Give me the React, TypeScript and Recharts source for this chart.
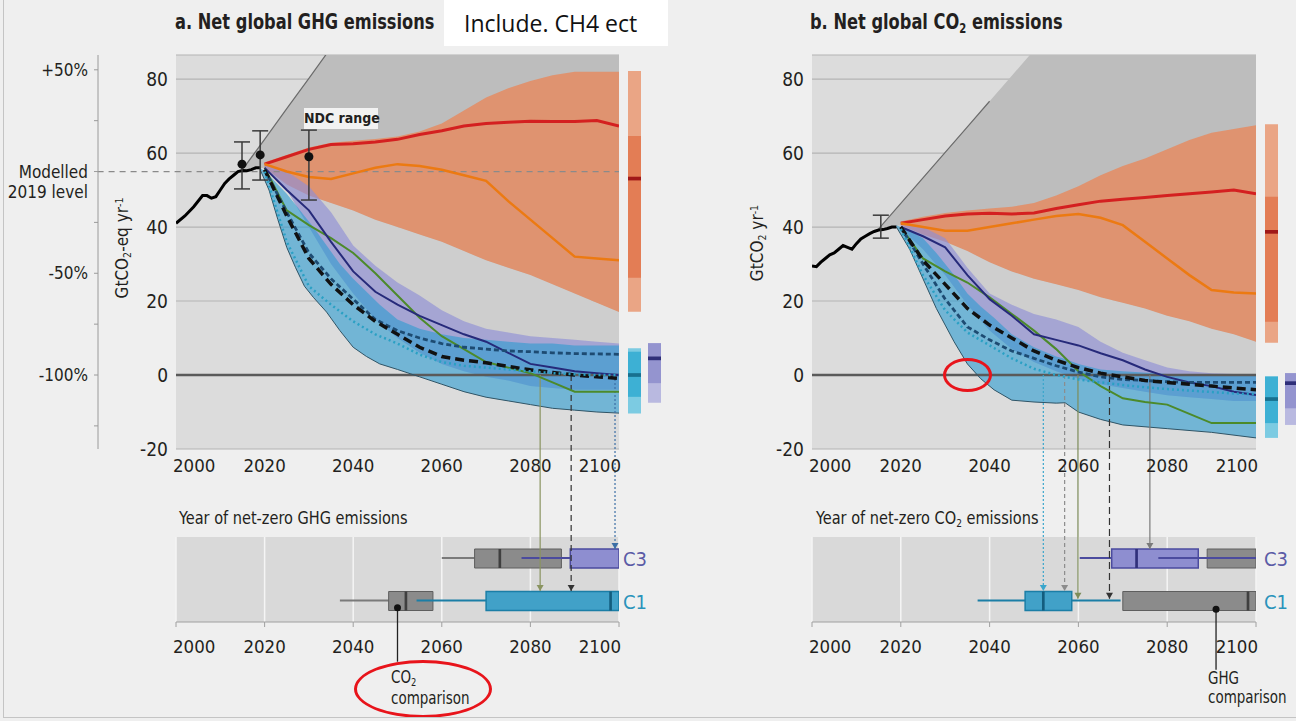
import React from 'react';
import {
  ComposedChart, BarChart, Area, Line, Bar, Scatter, ErrorBar, Cell,
  XAxis, YAxis, CartesianGrid, ReferenceLine, ReferenceDot,
} from 'recharts';

const FONT = "'DejaVu Sans Condensed', 'Liberation Sans Narrow', sans-serif";
const INK = '#231f20';

// ---------------- shared axes ----------------
const yearTicks = [2000, 2020, 2040, 2060, 2080, 2100];
const valueTicks = [-20, 0, 20, 40, 60, 80];
const pctTicks = [-13.75, 0, 13.75, 27.5, 41.25, 55, 68.75, 82.5];
const pctLabels = ['', '-100%', '', '-50%', '', 'Modelled|2019 level', '', '+50%'];
const projYears = [2020, 2025, 2030, 2035, 2040, 2045, 2050, 2055, 2060, 2065, 2070, 2075, 2080, 2085, 2090, 2095, 2100];
const envYears = [2015, 2020, 2025, 2030, 2035, 2040, 2045, 2050, 2055, 2060, 2065, 2070, 2075, 2080, 2085, 2090, 2095, 2100];
const zeroYears = [2000, 2100];
const zeroValues = [0, 0];

// ---------------- panel a: net GHG ----------------
const ghgStart = 55.5;
const ghgHistYears = [2000, 2002, 2004, 2006, 2007, 2008, 2009, 2010, 2011, 2012, 2013, 2014, 2015, 2016, 2017, 2018, 2019];
const ghgHist = [41, 43, 45.5, 48.5, 48.5, 47.8, 48.2, 50, 51.8, 53, 54, 55, 55.3, 55.2, 55.5, 56, 56];
const ghgEnvUpper = [55.5, 63.7, 72, 80.2, 88.5, 120, 120, 120, 120, 120, 120, 120, 120, 120, 120, 120, 120, 120];
const ghgOrangeHi = [57.5, 59.5, 61.5, 62.8, 63.3, 63.8, 64.5, 65.8, 68, 71.5, 75, 77.5, 79.5, 81, 82, 82, 82];
const ghgOrangeLo = [56, 51.5, 48.5, 46.5, 44.5, 42, 40, 38, 36, 33.5, 31, 29, 27, 24.5, 22, 19.5, 17];
const ghgPurpleHi = [57, 55, 51, 44, 35, 29.5, 25, 21.5, 17.5, 14.5, 12.5, 11.5, 10.5, 10, 9.5, 9, 8.5];
const ghgPurpleLo = [56, 50, 40, 30, 22, 15, 10, 6, 3, 1, -0.5, -1.5, -3, -3.5, -4, -4, -4];
const ghgBlueYears = [2019, 2021, 2023, 2025, 2027, 2029, 2031, 2034, 2037, 2040, 2043, 2046, 2050, 2055, 2060, 2065, 2070, 2075, 2080, 2085, 2090, 2095, 2100];
const ghgBlueLo = [55.5, 50, 42, 34.5, 29, 24, 21, 17, 12, 7.5, 5, 3, 1.5, -0.5, -2.5, -4.5, -6, -7, -8, -9, -9.5, -10, -10.3];
const ghgBlueHi = [56, 54, 51.5, 49, 46, 43, 40, 35, 30, 26, 22.5, 19, 15, 12.5, 11, 10, 9.5, 9, 8.5, 8.5, 8, 8, 8];
const ghgRed = [57, 59, 61, 62.3, 62.5, 63, 63.7, 65, 66, 67.3, 68, 68.3, 68.6, 68.5, 68.5, 68.8, 67.3];
const ghgOrange = [57, 55, 53.5, 53, 54.5, 56, 57, 56.5, 55.5, 54, 52.5, 47, 42, 37, 32, 31.5, 31];
const ghgNavy = [56, 50, 44.5, 36, 28, 22.5, 19, 16, 13.5, 11, 9, 6, 3, 2, 1, 0.5, 0];
const ghgGreen = [56, 44.5, 40.5, 37, 33, 27.5, 21.5, 15.5, 10.5, 7, 3.5, 2, 0.5, -2, -4.5, -4.5, -4.5];
const ghgBlackDash = [55.5, 43, 31.5, 24.5, 19, 14.5, 11, 7.5, 5, 4, 3.3, 2.3, 1.4, 0.7, 0, -0.5, -0.9];
const ghgNavyDash = [55.5, 44, 33, 26, 20.5, 15, 12, 10, 8.5, 7.5, 7, 6.5, 6.3, 6, 5.8, 5.7, 5.6];
const ghgCyanDot = [55, 36, 24, 19, 14.5, 11, 8.5, 5.5, 3.5, 2.5, 2, 1.5, 1, 0.5, 0.2, 0, 0];
const ghgErrYears = [2014.9, 2019, 2030];
const ghgErrValues = [57, 59.5, 59];
const ghgErrLow = [6.7, 6.8, 11.7];
const ghgErrHigh = [6, 6.5, 7.2];
const ghgDropYears = [2082.2, 2089.2, 2099.1];
const ghgDropEnds = [-58.4, -58.4, -47];
const ghgDropColors = ['#8a9460', '#333333', '#3b6ea5'];
const ghgDropDash = ['', '6 4', '2 2'];
const ghgCompareYear = 2050;
const ghgCompareSpan = [-62.9, -77.5];

// ---------------- panel b: net CO2 ----------------
const co2Start = 39.5;
const co2HistYears = [2000, 2001, 2002, 2003, 2004, 2005, 2006, 2007, 2008, 2009, 2010, 2011, 2012, 2013, 2014, 2015, 2016, 2017, 2018, 2019];
const co2Hist = [29.5, 29.3, 30.5, 31.5, 32.5, 33, 34, 35, 34.5, 34, 35.5, 36.8, 37.5, 38.2, 38.8, 39.2, 39.3, 39.6, 40, 40];
const co2EnvUpper = [39.5, 46.4, 53.3, 60.2, 67.1, 74, 80.9, 87.8, 120, 120, 120, 120, 120, 120, 120, 120, 120, 120];
const co2OrangeHi = [41.5, 42.8, 43.8, 44.5, 45, 45.5, 46.5, 48.5, 51, 54, 56.5, 58.5, 61, 63.5, 65.5, 66.5, 67.5];
const co2OrangeLo = [40.5, 38, 36, 33.5, 30.5, 28, 26, 24.5, 23, 21, 19.5, 18, 16, 14.5, 12.5, 11, 9];
const co2PurpleHi = [40.5, 40, 37, 29, 22, 19, 16.5, 15, 13, 9, 6, 4, 2, 1, 0.5, 0.3, 0];
const co2PurpleLo = [39.5, 34, 27, 19, 12, 7, 3.5, 1, -1, -2.5, -3.5, -4.5, -5.5, -6, -6.5, -7, -7];
const co2BlueYears = [2019, 2022, 2025, 2028, 2030, 2032, 2035, 2038, 2041, 2045, 2050, 2055, 2057, 2060, 2065, 2070, 2080, 2090, 2100];
const co2BlueLo = [40, 34, 26, 18, 13.5, 9, 3, -1, -4, -6.8, -7.3, -7.6, -7.5, -10, -12, -13.5, -14.5, -15.5, -17];
const co2BlueHi = [40.5, 39, 37, 33, 30, 27, 22, 18.5, 15.5, 11, 7.5, 5, 4.3, 3, 1.5, 1, 0.3, 0.1, 0];
const co2Red = [41, 42, 43, 43.5, 43.7, 43.5, 43.8, 45, 46, 47, 47.5, 48, 48.5, 49, 49.5, 50, 49];
const co2Orange = [41, 40, 39, 39, 40, 41, 42, 43, 43.5, 42.5, 40.5, 36, 31.5, 27, 23, 22.3, 22];
const co2Navy = [40, 37.5, 34.5, 27, 20.5, 16, 11, 9.5, 8, 5.9, 4, 1.5, -0.5, -2, -3, -4.5, -5.4];
const co2Green = [40, 31.5, 28, 25, 21, 16.5, 12, 7, 1, -3, -6.3, -7.3, -8, -10.5, -13, -13, -13];
const co2BlackDash = [40, 31, 24.5, 18, 13.5, 10, 6.5, 4, 2, 0.5, -0.5, -1.5, -2, -2.5, -3, -3.5, -4];
const co2NavyDash = [40, 30, 20.5, 13, 9.5, 6.5, 4.5, 2.5, 0.8, -0.5, -1.2, -1.5, -1.8, -2, -2, -2, -2];
const co2CyanDot = [39.5, 27, 17.5, 11.5, 8, 4.5, 1.7, 0, -1.2, -2, -2.7, -3.3, -3.8, -4.2, -4.6, -5, -5.2];
const co2ErrYears = [2015.5];
const co2ErrValues = [40];
const co2ErrLow = [3];
const co2ErrHigh = [3.2];
const co2DropYears = [2052.1, 2056.9, 2059.9, 2067, 2076.1];
const co2DropEnds = [-58.4, -58.4, -60.5, -60.5, -47];
const co2DropColors = ['#3aa6cc', '#8c8c8c', '#7d8c5a', '#333333', '#7a7a7a'];
const co2DropDash = ['2 2', '4 3', '', '7 4', ''];
const co2CompareYear = 2091;
const co2CompareSpan = [-63.3, -79.7];

// ---------------- side range bars (2100 distributions) ----------------
const sideCols = ['a', 'b'];
const ghgSideOuter1 = [[17.1, 82.2], [-7.5, 8.6]];
const ghgSideInner1 = [[26.3, 64.6], [-2.2, 8.6]];
const ghgSideMed1 = [[52.6, 53.6], [4, 5]];
const ghgSideOuter2 = [[-10.4, 7.2], null];
const ghgSideInner2 = [[-5.9, 6.3], null];
const ghgSideMed2 = [[-0.5, 0.5], null];
const co2SideOuter1 = [[8.7, 67.8], [-13.5, 0.5]];
const co2SideInner1 = [[14.4, 48.2], [-9, 0.5]];
const co2SideMed1 = [[38.2, 39.2], [-2.7, -1.7]];
const co2SideOuter2 = [[-17, -0.4], null];
const co2SideInner2 = [[-13, -0.4], null];
const co2SideMed2 = [[-7, -6], null];

// ---------------- year of net-zero box plots ----------------
const boxRows = ['C3', 'C1'];
const ghgGreyWhisk = [[2060, 2067.4], [2037, 2048]];
const ghgGreyBox = [[2067.4, 2087], [2048, 2058]];
const ghgGreyMed = [[2072.8, 2073.4], [2051.6, 2052.2]];
const ghgColBox = [[2089, 2100], [2070, 2100]];
const ghgColMed = [null, [2097.8, 2098.4]];
const ghgColWhiskA = [[2078, 2089], [2054.3, 2070]];
const ghgColWhiskB = [null, null];
const co2GreyWhisk = [null, null];
const co2GreyBox = [[2089, 2100], [2070, 2100]];
const co2GreyMed = [null, [2097.9, 2098.5]];
const co2ColBox = [[2067.5, 2087], [2048, 2058.5]];
const co2ColMed = [[2072.8, 2073.4], [2051.8, 2052.4]];
const co2ColWhiskA = [[2060.3, 2067.5], [2037.3, 2048]];
const co2ColWhiskB = [[2078, 2100], [2058.5, 2069.5]];

// ---------------- helpers ----------------
const pts = (xs: number[], ys: number[]) => xs.map((x, i) => ({ x, y: ys[i] }));
const band = (xs: number[], lo: number[], hi: number[]) => xs.map((x, i) => ({ x, r: [lo[i], hi[i]] }));

const rowColor: any = { C3: '#5b5ba6', C1: '#2a93bb' };
const boxFill: any = { C3: '#8e8ed0', C1: '#41a1c8' };
const boxStroke: any = { C3: '#4b4b9e', C1: '#1b7ea6' };
const medColor: any = { C3: '#30307a', C1: '#135d7e' };

const yearTick = (dy: number) => (props: any) => {
  const { x, y, payload } = props;
  const v = payload.value;
  const anchor = v === 2000 ? 'start' : v === 2100 ? 'end' : 'middle';
  const dx = v === 2000 ? -3 : v === 2100 ? 2 : 0;
  return (
    <text x={x + dx} y={y + dy} textAnchor={anchor} fontSize={18.5} fill={INK} fontFamily={FONT}>{v}</text>
  );
};

const PctTick = (props: any) => {
  const { x, y, payload } = props;
  const lab = pctLabels[pctTicks.indexOf(payload.value)] || '';
  const lines = lab.split('|');
  return (
    <text x={x} y={y} textAnchor="end" fontSize={17} fill={INK} fontFamily={FONT}>
      {lines.map((l, i) => <tspan key={i} x={x} dy={i === 0 ? 6 : 20}>{l}</tspan>)}
    </text>
  );
};

const RowTick = (props: any) => {
  const { x, y, payload } = props;
  return (
    <text x={x} y={y} dy={8} fontSize={20} fill={rowColor[payload.value]} fontFamily={FONT}>{payload.value}</text>
  );
};

// ---------------- top panel ----------------
function TopPanel({ p, left, width, mLeft, mRight, yWidth, pct }: any) {
  const darkWedge = band(envYears, [p.start, ...p.orangeLo], p.envUpper);
  const lightWedge = band(envYears, [p.start, ...p.purpleLo], [p.start, ...p.orangeLo]);
  const diag = pts(envYears.slice(0, 6), p.envUpper.slice(0, 6));
  const errData = p.errYears.map((x: number, i: number) => ({ x, y: p.errValues[i], e: [p.errLow[i], p.errHigh[i]] }));
  const L = { isAnimationActive: false, dot: false, activeDot: false, type: 'linear' as const, dataKey: 'y' };
  const A = { isAnimationActive: false, dot: false, activeDot: false, type: 'linear' as const, dataKey: 'r', stroke: 'none' };
  return (
    <div style={{ position: 'absolute', left, top: 0 }}>
      <ComposedChart width={width} height={720} margin={{ top: 55, right: mRight, bottom: 241, left: mLeft }}>
        <CartesianGrid vertical={false} fill="#dcdcdc" stroke="#b4b4b4" strokeWidth={1.2} />
        <XAxis dataKey="x" type="number" domain={[2000, 2100]} ticks={yearTicks} interval={0} allowDataOverflow
          axisLine={false} tickLine={false} tickSize={0} tickMargin={0} height={30} tick={yearTick(23)} />
        <YAxis type="number" domain={[-20, 86.5]} ticks={valueTicks} interval={0} allowDataOverflow width={yWidth}
          axisLine={false} tickLine={false} tickSize={4} tickMargin={4}
          tick={{ fontSize: 19, fill: INK, fontFamily: FONT }} />
        {pct && (
          <YAxis yAxisId="pct" type="number" domain={[-20, 86.5]} ticks={pctTicks} interval={0} allowDataOverflow width={90}
            axisLine={{ stroke: '#9a9a9a' }} tickLine={{ stroke: '#9a9a9a' }} tickSize={4} tickMargin={6} tick={PctTick} />
        )}
        <Line {...L} data={pts(zeroYears, zeroValues)} stroke="#5a5a5a" strokeWidth={2.5} />
        <Area {...A} data={lightWedge} fill="#cecece" fillOpacity={1} />
        <Area {...A} data={darkWedge} fill="#bdbdbd" fillOpacity={1} />
        <Line {...L} data={diag} stroke="#6b6b6b" strokeWidth={1.2} />
        <Area {...A} data={band(projYears, p.orangeLo, p.orangeHi)} fill="#e8875a" fillOpacity={0.78} />
        <Area {...A} data={band(projYears, p.purpleLo, p.purpleHi)} fill="#8f8fd6" fillOpacity={0.65} />
        <Area {...A} data={band(p.blueYears, p.blueLo, p.blueHi)} fill="#2c9bd0" fillOpacity={0.6} />
        <Line {...L} data={pts(p.blueYears, p.blueLo)} stroke="#2f5466" strokeWidth={1} />
        {p.baseline != null && (
          <ReferenceLine segment={[{ x: 1982.3, y: p.baseline }, { x: 2100, y: p.baseline }]} ifOverflow="visible"
            stroke="#8a8a8a" strokeDasharray="6 5" strokeWidth={1.3} />
        )}
        {p.dropYears.map((x: number, i: number) => (
          <ReferenceLine key={'d' + i} segment={[{ x, y: 0 }, { x, y: p.dropEnds[i] }]} ifOverflow="visible"
            stroke={p.dropColors[i]} strokeDasharray={p.dropDash[i]} strokeWidth={1.2} />
        ))}
        {p.dropYears.map((x: number, i: number) => (
          <ReferenceDot key={'a' + i} x={x} y={p.dropEnds[i]} ifOverflow="visible"
            shape={(s: any) => (
              <polygon points={`${s.cx - 3.5},${s.cy - 6} ${s.cx + 3.5},${s.cy - 6} ${s.cx},${s.cy}`} fill={p.dropColors[i]} />
            )} />
        ))}
        <ReferenceLine segment={[{ x: p.compareYear, y: p.compareSpan[0] }, { x: p.compareYear, y: p.compareSpan[1] }]}
          ifOverflow="visible" stroke="#222" strokeWidth={1.3} />
        <ReferenceDot x={p.compareYear} y={p.compareSpan[0]} r={3.5} fill="#111" stroke="none" ifOverflow="visible" />
        <Line {...L} data={pts(p.histYears, p.hist)} stroke="#000" strokeWidth={3} />
        <Line {...L} data={pts(projYears, p.red)} stroke="#d42020" strokeWidth={3} />
        <Line {...L} data={pts(projYears, p.orange)} stroke="#ec7a12" strokeWidth={2.5} />
        <Line {...L} data={pts(projYears, p.green)} stroke="#4c8a2a" strokeWidth={2} />
        <Line {...L} data={pts(projYears, p.navy)} stroke="#262a7a" strokeWidth={2} />
        <Line {...L} data={pts(projYears, p.navyDash)} stroke="#1d4b72" strokeWidth={2.8} strokeDasharray="5 3" />
        <Line {...L} data={pts(projYears, p.blackDash)} stroke="#111" strokeWidth={3.5} strokeDasharray="9 5" />
        <Line {...L} data={pts(projYears, p.cyanDot)} stroke="#2aa0c4" strokeWidth={2.5} strokeDasharray="2 3" />
        <Scatter data={errData} dataKey="y" isAnimationActive={false}
          shape={(s: any) => (p.errDot ? <circle cx={s.cx} cy={s.cy} r={4.5} fill="#111" /> : <g />)}>
          <ErrorBar dataKey="e" direction="y" width={8} stroke="#3a3a3a" strokeWidth={1.5} isAnimationActive={false} />
        </Scatter>
      </ComposedChart>
    </div>
  );
}

// ---------------- side range bars ----------------
function SideBars({ s, left, width, mLeft, mRight }: any) {
  const rows = sideCols.map((col, i) => ({
    col, o1: s.o1[i], i1: s.i1[i], m1: s.m1[i], o2: s.o2[i], i2: s.i2[i], m2: s.m2[i],
  }));
  const ids = ['o1', 'i1', 'm1', 'o2', 'i2', 'm2'];
  const c1o = ['#eaa585', '#b9b9e0'];
  const c1i = ['#e37d55', '#9494cf'];
  const c1m = ['#a01818', '#2e2e78'];
  return (
    <div style={{ position: 'absolute', left, top: 0 }}>
      <BarChart width={width} height={460} data={rows} margin={{ top: 55, bottom: 11, left: mLeft, right: mRight }} barSize={13}>
        {ids.map((id) => <XAxis key={id} xAxisId={id} dataKey="col" type="category" hide />)}
        <YAxis type="number" domain={[-20, 86.5]} allowDataOverflow hide />
        <Bar xAxisId="o1" dataKey="o1" isAnimationActive={false}>{rows.map((r, i) => <Cell key={i} fill={c1o[i]} />)}</Bar>
        <Bar xAxisId="i1" dataKey="i1" isAnimationActive={false}>{rows.map((r, i) => <Cell key={i} fill={c1i[i]} />)}</Bar>
        <Bar xAxisId="m1" dataKey="m1" isAnimationActive={false}>{rows.map((r, i) => <Cell key={i} fill={c1m[i]} />)}</Bar>
        <Bar xAxisId="o2" dataKey="o2" isAnimationActive={false} fill="#7ccbe2" />
        <Bar xAxisId="i2" dataKey="i2" isAnimationActive={false} fill="#3db0d4" />
        <Bar xAxisId="m2" dataKey="m2" isAnimationActive={false} fill="#17708f" />
      </BarChart>
    </div>
  );
}

// ---------------- box plots ----------------
function BoxChart({ b, left, width, mLeft, mRight, labelGap }: any) {
  const rows = boxRows.map((row, i) => ({
    row, gw: b.gw[i], gb: b.gb[i], gm: b.gm[i], cb: b.cb[i], cm: b.cm[i], wa: b.wa[i], wb: b.wb[i],
  }));
  const hidden = ['gb', 'cb', 'gm', 'cm', 'wa', 'wb'];
  return (
    <div style={{ position: 'absolute', left, top: 500 }}>
      <BarChart layout="vertical" width={width} height={170} data={rows}
        margin={{ top: 37, bottom: 18, left: mLeft, right: mRight }} barSize={19}>
        <CartesianGrid horizontal={false} fill="#d9d9d9" stroke="#f5f5f5" strokeWidth={1.5} />
        <XAxis type="number" domain={[2000, 2100]} ticks={yearTicks} interval={0} allowDataOverflow height={30}
          axisLine={{ stroke: '#a0a0a0' }} tickLine={{ stroke: '#a0a0a0' }} tickSize={5} tickMargin={0} tick={yearTick(26)} />
        <YAxis type="category" dataKey="row" orientation="right" width={40} axisLine={false} tickLine={false}
          tickSize={2} tickMargin={labelGap} tick={RowTick} />
        {hidden.map((id) => <YAxis key={id} yAxisId={id} type="category" dataKey="row" hide />)}
        <Bar dataKey="gw" barSize={2} fill="#7a7a7a" isAnimationActive={false} />
        <Bar yAxisId="gb" dataKey="gb" fill="#8b8b8b" stroke="#5e5e5e" strokeWidth={1} isAnimationActive={false} />
        <Bar yAxisId="cb" dataKey="cb" isAnimationActive={false}>
          {rows.map((r, i) => <Cell key={i} fill={boxFill[r.row]} stroke={boxStroke[r.row]} strokeWidth={1.5} />)}
        </Bar>
        <Bar yAxisId="gm" dataKey="gm" fill="#3f3f3f" isAnimationActive={false} />
        <Bar yAxisId="cm" dataKey="cm" isAnimationActive={false}>
          {rows.map((r, i) => <Cell key={i} fill={medColor[r.row]} />)}
        </Bar>
        <Bar yAxisId="wa" dataKey="wa" barSize={2} isAnimationActive={false}>
          {rows.map((r, i) => <Cell key={i} fill={boxStroke[r.row]} />)}
        </Bar>
        <Bar yAxisId="wb" dataKey="wb" barSize={2} isAnimationActive={false}>
          {rows.map((r, i) => <Cell key={i} fill={boxStroke[r.row]} />)}
        </Bar>
      </BarChart>
    </div>
  );
}

const ghgPanel = {
  start: ghgStart, histYears: ghgHistYears, hist: ghgHist, envUpper: ghgEnvUpper,
  orangeLo: ghgOrangeLo, orangeHi: ghgOrangeHi, purpleLo: ghgPurpleLo, purpleHi: ghgPurpleHi,
  blueYears: ghgBlueYears, blueLo: ghgBlueLo, blueHi: ghgBlueHi,
  red: ghgRed, orange: ghgOrange, navy: ghgNavy, green: ghgGreen,
  blackDash: ghgBlackDash, navyDash: ghgNavyDash, cyanDot: ghgCyanDot,
  errYears: ghgErrYears, errValues: ghgErrValues, errLow: ghgErrLow, errHigh: ghgErrHigh, errDot: true,
  dropYears: ghgDropYears, dropEnds: ghgDropEnds, dropColors: ghgDropColors, dropDash: ghgDropDash,
  compareYear: ghgCompareYear, compareSpan: ghgCompareSpan, baseline: 55,
};
const co2Panel = {
  start: co2Start, histYears: co2HistYears, hist: co2Hist, envUpper: co2EnvUpper,
  orangeLo: co2OrangeLo, orangeHi: co2OrangeHi, purpleLo: co2PurpleLo, purpleHi: co2PurpleHi,
  blueYears: co2BlueYears, blueLo: co2BlueLo, blueHi: co2BlueHi,
  red: co2Red, orange: co2Orange, navy: co2Navy, green: co2Green,
  blackDash: co2BlackDash, navyDash: co2NavyDash, cyanDot: co2CyanDot,
  errYears: co2ErrYears, errValues: co2ErrValues, errLow: co2ErrLow, errHigh: co2ErrHigh, errDot: false,
  dropYears: co2DropYears, dropEnds: co2DropEnds, dropColors: co2DropColors, dropDash: co2DropDash,
  compareYear: co2CompareYear, compareSpan: co2CompareSpan, baseline: null,
};
const ghgSide = { o1: ghgSideOuter1, i1: ghgSideInner1, m1: ghgSideMed1, o2: ghgSideOuter2, i2: ghgSideInner2, m2: ghgSideMed2 };
const co2Side = { o1: co2SideOuter1, i1: co2SideInner1, m1: co2SideMed1, o2: co2SideOuter2, i2: co2SideInner2, m2: co2SideMed2 };
const ghgBox = { gw: ghgGreyWhisk, gb: ghgGreyBox, gm: ghgGreyMed, cb: ghgColBox, cm: ghgColMed, wa: ghgColWhiskA, wb: ghgColWhiskB };
const co2Box = { gw: co2GreyWhisk, gb: co2GreyBox, gm: co2GreyMed, cb: co2ColBox, cm: co2ColMed, wa: co2ColWhiskA, wb: co2ColWhiskB };

const Sub = ({ children }: any) => <span style={{ fontSize: '0.62em', position: 'relative', top: '0.3em' }}>{children}</span>;
const Sup = ({ children }: any) => <span style={{ fontSize: '0.62em', position: 'relative', top: '-0.5em' }}>{children}</span>;
const abs = (l: number, t: number, extra: any = {}) => ({ position: 'absolute' as const, left: l, top: t, whiteSpace: 'nowrap' as const, ...extra });
const squeeze = (k: number) => ({ transform: `scaleX(${k})`, transformOrigin: 'left center' });

export default function App() {
  return (
    <div style={{ position: 'absolute', left: 0, top: 0, width: 1296, height: 721, background: '#efefef', overflow: 'hidden', fontFamily: FONT, color: INK }}>
      <BoxChart b={ghgBox} left={0} width={670} mLeft={176} mRight={11} labelGap={2} />
      <BoxChart b={co2Box} left={660} width={636} mLeft={152} mRight={0} labelGap={6} />
      <TopPanel p={ghgPanel} left={0} width={670} mLeft={8} mRight={51} yWidth={78} pct />
      <TopPanel p={co2Panel} left={660} width={636} mLeft={72} mRight={40} yWidth={80} pct={false} />
      <SideBars s={ghgSide} left={620} width={50} mLeft={4} mRight={6} />
      <SideBars s={co2Side} left={1256} width={50} mLeft={5} mRight={5} />

      <div style={abs(175, 9, { fontSize: 22, fontWeight: 'bold', ...squeeze(0.82) })}>a. Net global GHG emissions</div>
      <div style={abs(810, 9, { fontSize: 22, fontWeight: 'bold', ...squeeze(0.82) })}>b. Net global CO<Sub>2</Sub> emissions</div>
      <div style={abs(444, 0, { width: 224, height: 46, background: '#ffffff', fontFamily: "'Open Sans', 'Liberation Sans', sans-serif", fontSize: 23, lineHeight: '46px', paddingLeft: 20, boxSizing: 'border-box', color: '#111' })}>Include. CH4 ect</div>
      <div style={abs(122, 248, { transform: 'translate(-50%, -50%) rotate(-90deg)', fontSize: 17 })}>GtCO<Sub>2</Sub>-eq yr<Sup>-1</Sup></div>
      <div style={abs(757, 243, { transform: 'translate(-50%, -50%) rotate(-90deg)', fontSize: 17 })}>GtCO<Sub>2</Sub> yr<Sup>-1</Sup></div>
      <div style={abs(304, 108, { width: 74, height: 21, background: '#f2f2f2', fontSize: 14, fontWeight: 'bold', textAlign: 'center', lineHeight: '21px' })}>NDC range</div>
      <div style={abs(179, 508, { fontSize: 17, ...squeeze(0.95) })}>Year of net-zero GHG emissions</div>
      <div style={abs(816, 508, { fontSize: 17, ...squeeze(0.95) })}>Year of net-zero CO<Sub>2</Sub> emissions</div>
      <div style={abs(391, 668, { fontSize: 17, lineHeight: '19px', ...squeeze(0.88) })}>CO<Sub>2</Sub><br />comparison</div>
      <div style={abs(1208, 669, { fontSize: 17, lineHeight: '19px', ...squeeze(0.88) })}>GHG<br />comparison</div>
      <div style={abs(354, 660, { width: 138, height: 58, border: '3px solid #e8141b', borderRadius: '50%', boxSizing: 'border-box' })} />
      <div style={abs(943, 358, { width: 49, height: 34, border: '3px solid #e8141b', borderRadius: '50%', boxSizing: 'border-box' })} />
      <div style={abs(3, 0, { width: 1, height: 718, background: '#c4c4c4' })} />
      <div style={abs(3, 717, { width: 1293, height: 1, background: '#c4c4c4' })} />
    </div>
  );
}
